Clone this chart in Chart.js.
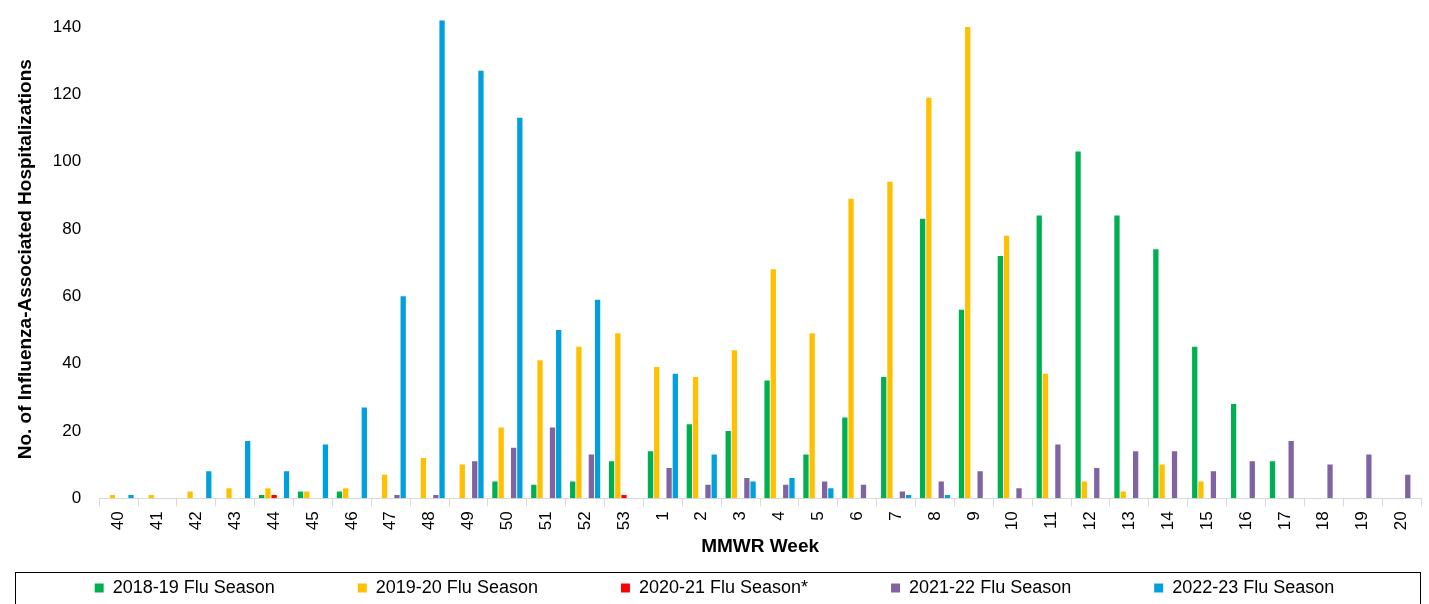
<!DOCTYPE html>
<html>
<head>
<meta charset="utf-8">
<script src="https://cdn.jsdelivr.net/npm/chart.js@4"></script>
<style>
  body { margin: 0; background: #fff; }
  #wrap { width: 1429px; height: 604px; }
</style>
</head>
<body>
<div id="wrap"><canvas id="fluChart"></canvas></div>
<script>
const weeks = ['40','41','42','43','44','45','46','47','48','49','50','51','52','53',
  '1','2','3','4','5','6','7','8','9','10','11','12','13','14','15','16','17','18','19','20'];

const season1819 = [0,0,0,0,1,2,2,0,0,0,5,4,5,11, 14,22,20,35,13,24,36,83,56,72,84,103,84,74,45,28,11,0,0,0];
const season1920 = [1,1,2,3,3,2,3,7,12,10,21,41,45,49, 39,36,44,68,49,89,94,119,140,78,37,5,2,10,5,0,0,0,0,0];
const season2021 = [0,0,0,0,1,0,0,0,0,0,0,0,0,1, 0,0,0,0,0,0,0,0,0,0,0,0,0,0,0,0,0,0,0,0];
const season2122 = [0,0,0,0,0,0,0,1,1,11,15,21,13,0, 9,4,6,4,5,4,2,5,8,3,16,9,14,14,8,11,17,10,13,7];
const season2223 = [1,0,8,17,8,16,27,60,142,127,113,50,59,0, 37,13,5,6,3,0,1,1,0,0,0,0,0,0,0,0,0,0,0,0];

const ctx = document.getElementById('fluChart').getContext('2d');

// draw the box round the legend
const legendBox = {
  id: 'legendBox',
  afterDraw(chart) {
    const c = chart.ctx;
    c.save();
    c.strokeStyle = '#000';
    c.lineWidth = 1;
    c.strokeRect(15.5, 572.5, 1405, 34);
    c.restore();
  }
};

const mkSet = (label, data, color) => ({
  label: label, data: data, backgroundColor: color,
  categoryPercentage: 0.8, barPercentage: 0.85
});

const FONT = 'Liberation Sans, Arial, sans-serif';
const GAP = '               ';

new Chart(ctx, {
  type: 'bar',
  data: {
    labels: weeks,
    datasets: [
      mkSet('2018-19 Flu Season', season1819, '#00B050'),
      mkSet('2019-20 Flu Season', season1920, '#FFC000'),
      mkSet('2020-21 Flu Season*', season2021, '#FF0000'),
      mkSet('2021-22 Flu Season', season2122, '#8064A2'),
      mkSet('2022-23 Flu Season', season2223, '#00A0DC')
    ]
  },
  plugins: [legendBox],
  options: {
    responsive: true,
    maintainAspectRatio: false,
    animation: false,
    layout: { padding: { left: 8, right: 8, top: -8, bottom: -3 } },
    plugins: {
      tooltip: { enabled: false },
      legend: {
        position: 'bottom',
        labels: {
          boxWidth: 9, boxHeight: 9, padding: 8,
          color: '#000',
          font: { family: FONT, size: 18 },
          generateLabels(chart) {
            const items = Chart.defaults.plugins.legend.labels.generateLabels(chart);
            items.forEach((it, i) => { if (i < items.length - 1) it.text += GAP; });
            return items;
          }
        }
      }
    },
    scales: {
      x: {
        grid: { display: true, drawOnChartArea: false, offset: true, tickLength: 8, color: '#d9d9d9' },
        border: { color: '#d9d9d9' },
        ticks: {
          color: '#000', maxRotation: 90, minRotation: 90, autoSkip: false, padding: 5,
          font: { family: FONT, size: 17 }
        },
        title: {
          display: true, text: 'MMWR Week', color: '#000', padding: { top: 0, bottom: 13 },
          font: { family: FONT, size: 19, weight: 'bold' }
        }
      },
      y: {
        min: 0, max: 142,
        grid: { display: false },
        border: { display: false },
        ticks: {
          stepSize: 20, color: '#000', padding: 10,
          font: { family: FONT, size: 17 },
          callback: v => (v % 20 === 0 ? v : '')
        },
        afterBuildTicks(axis) {
          axis.ticks = [0,20,40,60,80,100,120,140].map(v => ({ value: v }));
        },
        title: {
          display: true, text: 'No. of Influenza-Associated Hospitalizations', color: '#000', padding: 6,
          font: { family: FONT, size: 19, weight: 'bold' }
        }
      }
    }
  }
});
</script>
</body>
</html>
